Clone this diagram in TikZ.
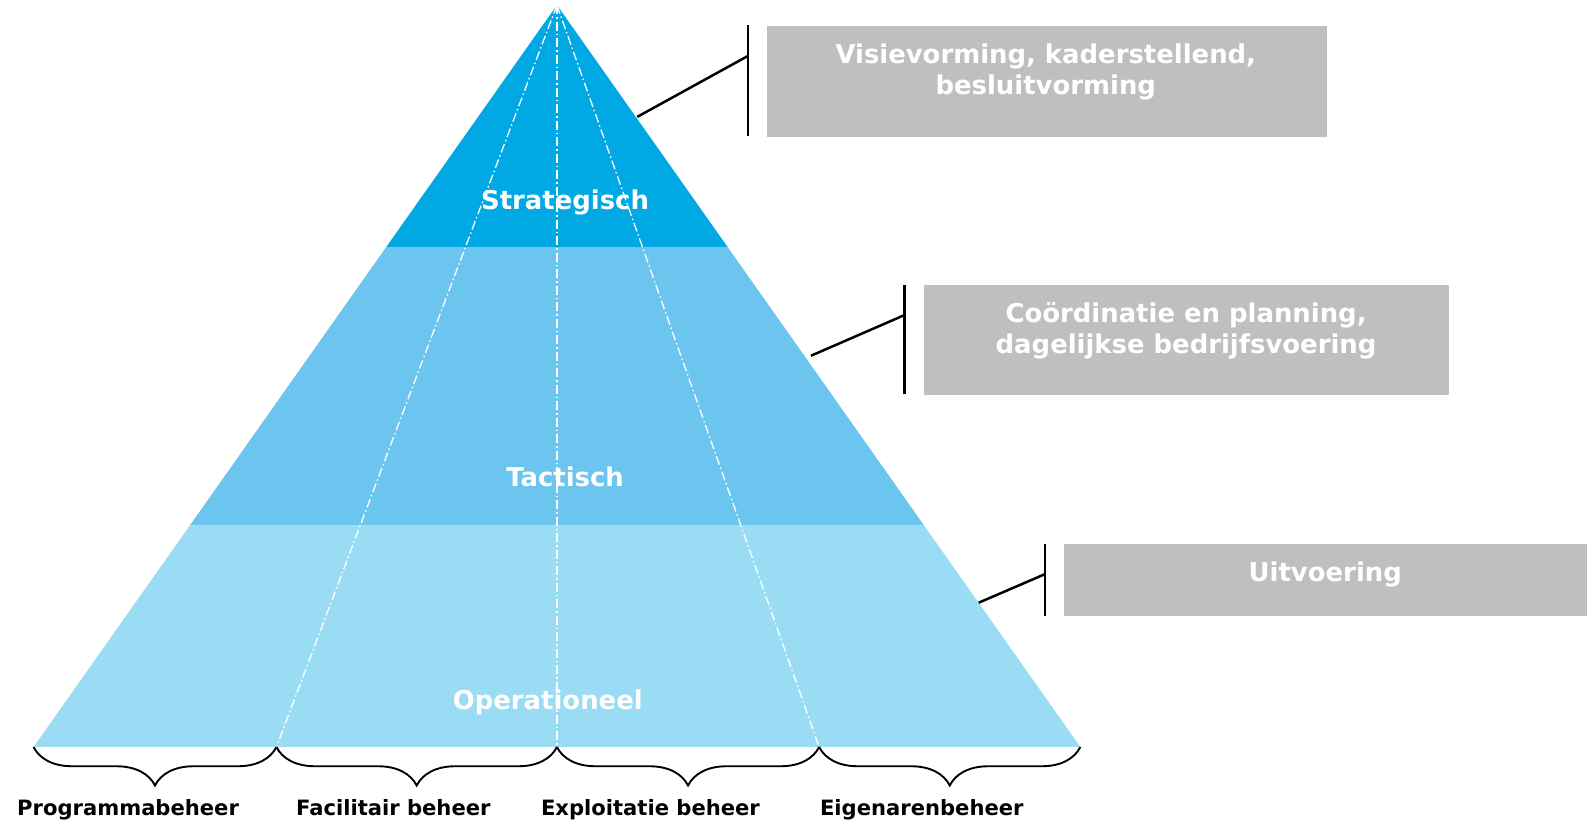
\documentclass[tikz,border=0pt]{standalone}
\usepackage{fontspec}
\setmainfont{DejaVu Sans}
\usetikzlibrary{decorations.pathreplacing}
\definecolor{strat}{RGB}{0,169,227}
\definecolor{tact}{RGB}{108,197,238}
\definecolor{oper}{RGB}{155,220,245}
\definecolor{boxgray}{RGB}{191,191,191}
\begin{document}
\begin{tikzpicture}[x=1.0163pt,y=-1.0163pt,
  lvl/.style={text=white,font=\bfseries\fontsize{25.9}{31.5}\selectfont,inner sep=0pt,anchor=base},
  infobox/.style={fill=boxgray,draw=none,inner sep=0pt,anchor=north west},
  infotext/.style={text=white,font=\bfseries\fontsize{25.9}{31.5}\selectfont,align=center,inner sep=0pt,anchor=base},
  conn/.style={draw=black,line width=2.5pt},
  divline/.style={draw=white,line width=1.3pt,dash pattern=on 9pt off 3pt on 1.5pt off 3pt},
  bracestyle/.style={draw=black,line width=1.9pt,decorate,decoration={brace,mirror,amplitude=38.5pt}},
  domlabel/.style={text=black,font=\bfseries\fontsize{21.1}{25}\selectfont,inner sep=0pt,anchor=base}]
\useasboundingbox (0,0) rectangle (1569.4,807.9);
% pyramid corners
\coordinate (apex) at (548,5);
\coordinate (sL) at (380.1,243);
\coordinate (sR) at (715.9,243);
\coordinate (tL) at (186.8,517);
\coordinate (tR) at (909.2,517);
\coordinate (b0) at (33,735);
\coordinate (b1) at (272,735);
\coordinate (b2) at (548,735);
\coordinate (b3) at (806,735);
\coordinate (b4) at (1063,735);
% bands
\fill[oper] (tL) -- (tR) -- (b4) -- (b0) -- cycle;
\fill[tact] (sL) -- (sR) -- (tR) -- (tL) -- cycle;
\fill[strat] (apex) -- (sR) -- (sL) -- cycle;
% dividing lines
\draw[divline] (apex) -- (b1);
\draw[divline] (apex) -- (b2);
\draw[divline] (apex) -- (b3);
% level labels
\node[lvl] (strategisch) at (556,206) {Strategisch};
\node[lvl] (tactisch) at (556,479) {Tactisch};
\node[lvl] (operationeel) at (539,698) {Operationeel};
% info boxes
\node[infobox,minimum width=560pt,minimum height=111pt] (box1) at (754,25) {};
\node[infotext] (txt1) at (1029,93) {Visievorming, kaderstellend,\\besluitvorming};
\node[infobox,minimum width=525pt,minimum height=110pt] (box2) at (909,280) {};
\node[infotext] (txt2) at (1167,348) {Coördinatie en planning,\\dagelijkse bedrijfsvoering};
\node[infobox,minimum width=523pt,minimum height=72pt] (box3) at (1047,535) {};
\node[infotext] (txt3) at (1304,572) {Uitvoering};
% connectors
\coordinate (p1) at (627,115);
\coordinate (q1) at (736,55);
\coordinate (v1a) at (736,25);
\coordinate (v1b) at (736,134);
\draw[conn] (p1) -- (q1);
\draw[conn] (v1a) -- (v1b);
\coordinate (p2) at (798,350);
\coordinate (q2) at (890,310);
\coordinate (v2a) at (890,280);
\coordinate (v2b) at (890,388);
\draw[conn] (p2) -- (q2);
\draw[conn] (v2a) -- (v2b);
\coordinate (p3) at (963,593);
\coordinate (q3) at (1028,565);
\coordinate (v3a) at (1028,535);
\coordinate (v3b) at (1028,606);
\draw[conn] (p3) -- (q3);
\draw[conn] (v3a) -- (v3b);
% braces
\draw[bracestyle] (b0) -- (b1);
\draw[bracestyle] (b1) -- (b2);
\draw[bracestyle] (b2) -- (b3);
\draw[bracestyle] (b3) -- (b4);
% domain labels
\node[domlabel] (d1) at (126,802) {Programmabeheer};
\node[domlabel] (d2) at (387,802) {Facilitair beheer};
\node[domlabel] (d3) at (640,802) {Exploitatie beheer};
\node[domlabel] (d4) at (907,802) {Eigenarenbeheer};
\end{tikzpicture}
\end{document}
